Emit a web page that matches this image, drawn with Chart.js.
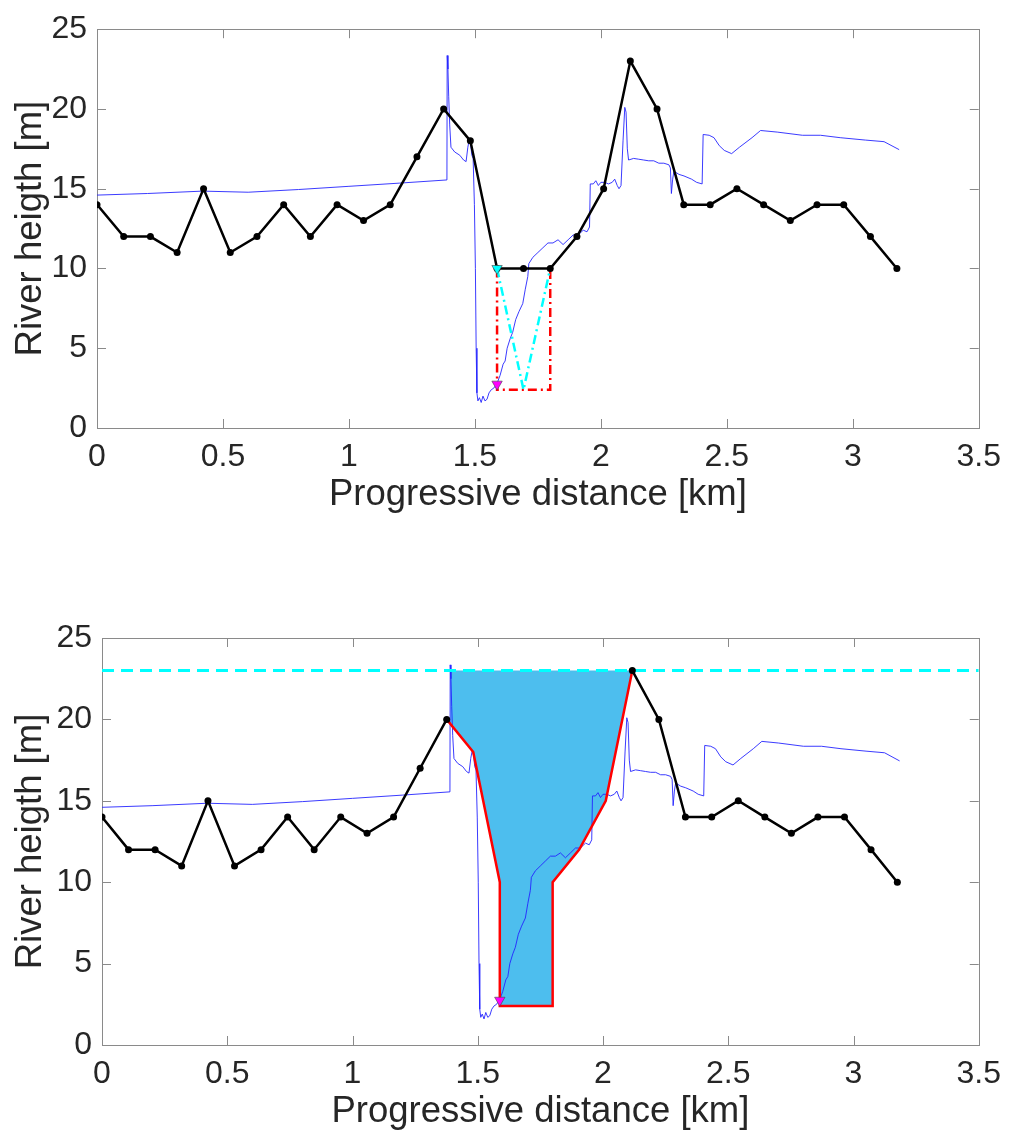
<!DOCTYPE html>
<html>
<head>
<meta charset="utf-8">
<script src="https://cdn.jsdelivr.net/npm/chart.js@4.4.1/dist/chart.umd.min.js"></script>
<style>
  body { margin: 0; background: #fff; }
  #wrap { position: relative; width: 1011px; height: 1141px; }
  canvas { position: absolute; left: 0; }
</style>
</head>
<body>
<div id="wrap">
  <canvas id="topChart" width="1011" height="518" style="top:0px"></canvas>
  <canvas id="bottomChart" width="1011" height="575" style="top:560px"></canvas>
</div>
<script>
// bank / section points (black)
const stationKm = [0, 0.106, 0.212, 0.318, 0.423, 0.529, 0.635, 0.741, 0.847, 0.953, 1.058, 1.164, 1.270, 1.376, 1.482, 1.588, 1.693, 1.799, 1.905, 2.011, 2.117, 2.223, 2.329, 2.434, 2.540, 2.646, 2.752, 2.858, 2.964, 3.070, 3.175];
const stationHeight = [14, 12, 12, 11, 15, 11, 12, 14, 12, 14, 13, 14, 17, 20, 18, 10, 10, 10, 12, 15, 23, 20, 14, 14, 15, 14, 13, 14, 14, 12, 10];

// river profile (thin blue)
const profileKm = [0, 0.2, 0.42, 0.6, 0.8, 1.0, 1.2, 1.389, 1.390, 1.393, 1.396, 1.400, 1.405, 1.420, 1.440, 1.455, 1.465, 1.472, 1.478, 1.483, 1.488, 1.493, 1.498, 1.502, 1.505, 1.508, 1.512, 1.518, 1.525, 1.532, 1.540, 1.548, 1.556, 1.565, 1.575, 1.588, 1.600, 1.612, 1.620, 1.628, 1.640, 1.650, 1.662, 1.675, 1.690, 1.700, 1.710, 1.714, 1.730, 1.750, 1.770, 1.790, 1.810, 1.830, 1.850, 1.870, 1.890, 1.910, 1.930, 1.945, 1.955, 1.958, 1.970, 1.980, 1.990, 2.000, 2.015, 2.030, 2.045, 2.055, 2.065, 2.072, 2.080, 2.088, 2.095, 2.100, 2.105, 2.110, 2.130, 2.150, 2.170, 2.190, 2.210, 2.230, 2.250, 2.270, 2.276, 2.280, 2.285, 2.290, 2.310, 2.330, 2.360, 2.380, 2.402, 2.406, 2.430, 2.449, 2.470, 2.490, 2.519, 2.550, 2.600, 2.634, 2.700, 2.800, 2.872, 2.950, 3.050, 3.124, 3.184];
const profileHeight = [14.60, 14.70, 14.85, 14.78, 14.95, 15.15, 15.35, 15.55, 23.35, 22.5, 20.8, 19.0, 17.6, 17.3, 17.1, 16.8, 16.7, 17.6, 18.1, 17.8, 17.1, 16.9, 14.0, 10.0, 5.0, 2.2, 1.7, 1.9, 1.6, 2.0, 1.7, 1.8, 2.2, 2.4, 2.5, 2.8, 3.3, 4.0, 4.2, 5.0, 5.6, 6.0, 6.8, 7.3, 7.8, 8.7, 9.5, 10.3, 10.7, 11.0, 11.3, 11.6, 11.6, 11.8, 11.5, 11.8, 12.1, 12.1, 12.4, 12.3, 12.6, 15.3, 15.3, 15.5, 15.2, 15.4, 15.4, 15.3, 15.4, 15.6, 15.2, 15.0, 15.2, 18.0, 20.1, 19.8, 17.5, 16.8, 16.9, 16.85, 16.8, 16.75, 16.75, 16.6, 16.6, 16.5, 16.3, 14.7, 15.6, 16.1, 15.9, 15.8, 15.6, 15.4, 15.3, 18.4, 18.35, 18.2, 17.7, 17.4, 17.2, 17.6, 18.2, 18.65, 18.55, 18.35, 18.35, 18.2, 18.05, 17.95, 17.45];

// top panel: gap box and V
const boxKm = [1.588, 1.588, 1.799, 1.799];
const boxHeight = [10, 2.4, 2.4, 10];
const vKm = [1.588, 1.693, 1.799];
const vHeight = [10, 2.4, 10];
const gapTopKm = [1.588];
const gapTopHeight = [10];
const bedKm = [1.588];
const bedHeight = [2.75];

// bottom panel: flooded area
const levelKm = [0, 3.5];
const levelHeight = [23, 23];
const floodKm = [1.39, 1.482, 1.588, 1.588, 1.799, 1.799, 1.905, 2.011, 2.117];
const floodHeight = [19.85, 18, 10, 2.4, 2.4, 10, 12, 15, 23];
const edgeKm = [1.376, 1.482, 1.588, 1.588, 1.799, 1.799, 1.905, 2.011, 2.117];
const edgeHeight = [20, 18, 10, 2.4, 2.4, 10, 12, 15, 23];

function pts(xs, ys) {
  return xs.map((x, i) => ({ x: x, y: ys[i] }));
}

const FONT = "'Liberation Sans', Arial, Helvetica, sans-serif";
const AXIS_GREY = '#8a8a8a';

// matlab-like box with inward ticks on all four sides
const boxTicks = {
  id: 'boxTicks',
  beforeDatasetsDraw(chart) {
    const { ctx, chartArea: a, scales } = chart;
    const x = scales.x, y = scales.y;
    ctx.save();
    ctx.strokeStyle = AXIS_GREY;
    ctx.lineWidth = 1;
    ctx.beginPath();
    x.ticks.forEach(t => {
      const px = Math.round(x.getPixelForValue(t.value)) + 0.5;
      ctx.moveTo(px, a.bottom); ctx.lineTo(px, a.bottom - 9);
      ctx.moveTo(px, a.top); ctx.lineTo(px, a.top + 9);
    });
    y.ticks.forEach(t => {
      const py = Math.round(y.getPixelForValue(t.value)) + 0.5;
      ctx.moveTo(a.left, py); ctx.lineTo(a.left + 9, py);
      ctx.moveTo(a.right, py); ctx.lineTo(a.right - 9, py);
    });
    ctx.stroke();
    ctx.strokeRect(Math.round(a.left) + 0.5, Math.round(a.top) + 0.5, Math.round(a.right - a.left), Math.round(a.bottom - a.top));
    ctx.restore();
  }
};

function makeChart(id, datasets, leftWidth, padTop) {
  return new Chart(document.getElementById(id), {
    type: 'scatter',
    data: { datasets: datasets },
    plugins: [boxTicks],
    options: {
      responsive: false,
      animation: false,
      layout: { padding: { top: padTop, right: 31, bottom: 0, left: 0 } },
      plugins: {
        legend: { display: false },
        tooltip: { enabled: false }
      },
      scales: {
        x: {
          type: 'linear', min: 0, max: 3.5,
          afterFit: (s) => { s.height = 90; },
          grid: { display: false, drawTicks: false },
          border: { display: false },
          ticks: { stepSize: 0.5, autoSkip: false, maxRotation: 0, padding: 10, color: '#262626', font: { family: FONT, size: 32 }, callback: (v) => String(v) },
          title: { display: true, text: 'Progressive distance [km]', color: '#262626', padding: { top: 0, bottom: 1 }, font: { family: FONT, size: 36.5 } }
        },
        y: {
          type: 'linear', min: 0, max: 25,
          afterFit: (s) => { s.width = leftWidth; },
          grid: { display: false, drawTicks: false },
          border: { display: false },
          ticks: { stepSize: 5, padding: 10, color: '#262626', font: { family: FONT, size: 32 }, callback: (v) => String(v) },
          title: { display: true, text: 'River heigth [m]', color: '#262626', padding: { top: 9, bottom: 0 }, font: { family: FONT, size: 36.5 } }
        }
      }
    }
  });
}

const profileSet = {
  data: pts(profileKm, profileHeight), showLine: true, borderColor: '#2525ff', borderWidth: 0.9,
  pointRadius: 0, tension: 0, order: 6
};
function stationSet(hideFrom, hideTo) {
  // points strictly inside the flooded stretch are left out (line breaks there)
  const ys = stationHeight.map((h, i) => (stationKm[i] > hideFrom && stationKm[i] < hideTo) ? null : h);
  return {
    data: pts(stationKm, ys), showLine: true, spanGaps: false, borderColor: '#000', borderWidth: 2.5,
    pointRadius: 3.5, pointBackgroundColor: '#000', pointBorderWidth: 0, tension: 0, order: 2
  };
}
function triangle(xs, ys, color) {
  return {
    data: pts(xs, ys), showLine: false, pointStyle: 'triangle', rotation: 180, pointRadius: 6,
    pointBackgroundColor: color, pointBorderColor: '#444', pointBorderWidth: 0.6, order: 0
  };
}

makeChart('topChart', [
  Object.assign({}, profileSet),
  { data: pts(boxKm, boxHeight), showLine: true, borderColor: '#ff0000', borderWidth: 2.5, borderDash: [9, 4, 2, 4], pointRadius: 0, tension: 0, order: 5 },
  { data: pts(vKm, vHeight), showLine: true, borderColor: '#00ffff', borderWidth: 2.5, borderDash: [9, 4, 2, 4], pointRadius: 0, tension: 0, order: 4 },
  stationSet(Infinity, -Infinity),
  triangle(gapTopKm, gapTopHeight, '#00ffff'),
  triangle(bedKm, bedHeight, '#ff00ff')
], 97, 20);

makeChart('bottomChart', [
  { data: pts(floodKm, floodHeight), showLine: true, borderWidth: 0, borderColor: 'rgba(0,0,0,0)', backgroundColor: '#4dbeee', fill: { value: 23 }, pointRadius: 0, tension: 0, order: 7 },
  Object.assign({}, profileSet),
  { data: pts(edgeKm, edgeHeight), showLine: true, borderColor: '#ff0000', borderWidth: 2.5, pointRadius: 0, tension: 0, order: 5 },
  { data: pts(levelKm, levelHeight), showLine: true, borderColor: '#00ffff', borderWidth: 3, borderDash: [12, 7], pointRadius: 0, tension: 0, order: 4 },
  stationSet(edgeKm[0], edgeKm[edgeKm.length - 1]),
  triangle(bedKm, bedHeight, '#ff00ff')
], 102, 78);
</script>
</body>
</html>
